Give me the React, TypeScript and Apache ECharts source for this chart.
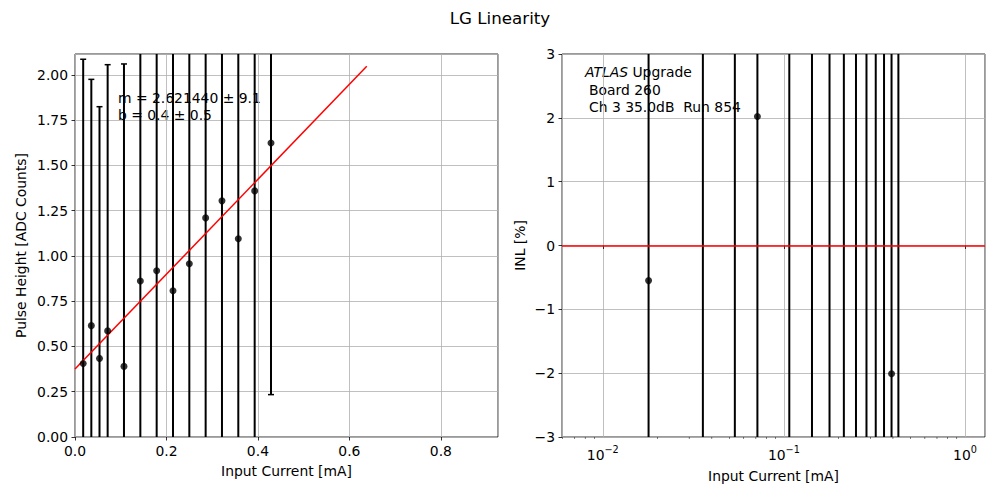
import React, { useEffect, useRef } from 'react';
import * as echarts from 'echarts';

const FONT = 'DejaVu Sans';

// Input currents [mA] (shared by both panels)
const currents = [0.0179, 0.0357, 0.0536, 0.0714, 0.1071, 0.1429, 0.1786, 0.2143, 0.25, 0.2857, 0.3214, 0.3571, 0.3929, 0.4286];
// Left panel: pulse heights and symmetric errors
const pulseHeights = [0.406, 0.615, 0.434, 0.586, 0.39, 0.861, 0.918, 0.808, 0.957, 1.21, 1.304, 1.095, 1.359, 1.624];
const pulseErrors = [1.68, 1.36, 1.39, 1.47, 1.67, 1.6, 1.5, 1.5, 1.5, 1.5, 1.5, 1.5, 1.5, 1.39];
// Linear fit line
const fitX = [0, 0.638];
const fitY = [0.375, 2.047];
// Right panel: INL values (null = off scale) and error bar limits
const inlValues: (number | null)[] = [-0.55, null, null, 2.02, null, null, null, null, null, null, null, null, -2.01, null];
const inlLow = [-30, -30, -30, -30, -30, -30, -30, -30, -30, -30, -30, -30, -30, -30];
const inlHigh = [30, 30, 30, 30, 30, 30, 30, 30, 30, 30, 30, 30, 30, 30];
// Log axis minor ticks
const logMinorTicks = [0.006, 0.007, 0.008, 0.009, 0.02, 0.03, 0.04, 0.05, 0.06, 0.07, 0.08, 0.09, 0.2, 0.3, 0.4, 0.5, 0.6, 0.7, 0.8, 0.9];

const errRender = (params: any, api: any) => {
  const x = api.value(0);
  const lo = api.value(1);
  const hi = api.value(2);
  const pLo = api.coord([x, lo]);
  const pHi = api.coord([x, hi]);
  const cap = 3;
  const st = { stroke: '#000', lineWidth: 2 };
  const capSt = { stroke: '#000', lineWidth: 1.5 };
  return {
    type: 'group',
    children: [
      { type: 'line', shape: { x1: pLo[0], y1: pLo[1], x2: pHi[0], y2: pHi[1] }, style: st },
      { type: 'line', shape: { x1: pLo[0] - cap, y1: pLo[1], x2: pLo[0] + cap, y2: pLo[1] }, style: capSt },
      { type: 'line', shape: { x1: pHi[0] - cap, y1: pHi[1], x2: pHi[0] + cap, y2: pHi[1] }, style: capSt },
    ],
  };
};

const minus = (s: string) => s.replace('-', '\u2212');

export default function App() {
  const ref = useRef<HTMLDivElement>(null);
  useEffect(() => {
    const chart = echarts.init(ref.current!, undefined, { renderer: 'svg' });
    const tickStyle = { show: true, length: 3.5, lineStyle: { color: '#000', width: 0.8 } };
    const split = { show: true, lineStyle: { color: '#b0b0b0', width: 0.8 } };
    const lbl = { color: '#000', fontSize: 13.9, fontFamily: FONT, margin: 7 };
    const nameStyle = { color: '#000', fontSize: 13.9, fontFamily: FONT };

    const option: any = {
      animation: false,
      backgroundColor: '#fff',
      title: {
        text: 'LG Linearity',
        left: 'center',
        top: 9,
        padding: 0,
        textStyle: { fontSize: 16.7, fontWeight: 'normal', color: '#000', fontFamily: FONT },
      },
      grid: [
        { left: 75, top: 54, width: 423, height: 383, show: true, borderColor: '#000', borderWidth: 0.8, backgroundColor: 'transparent' },
        { left: 562, top: 54, width: 423, height: 383, show: true, borderColor: '#000', borderWidth: 0.8, backgroundColor: 'transparent' },
      ],
      xAxis: [
        {
          type: 'value', gridIndex: 0, min: 0, max: 0.925, interval: 0.2,
          axisLine: { show: false }, axisTick: tickStyle, splitLine: split,
          axisLabel: { ...lbl, showMaxLabel: false, formatter: (v: number) => v.toFixed(1) },
          name: 'Input Current [mA]', nameLocation: 'middle', nameGap: 27, nameTextStyle: nameStyle,
        },
        {
          type: 'log', gridIndex: 1, min: 0.005955, max: 1.289, logBase: 10,
          axisLine: { show: false }, axisTick: tickStyle, splitLine: split,
          axisLabel: {
            ...lbl, showMinLabel: false, showMaxLabel: false,
            formatter: (v: number) => {
              const e = Math.round(Math.log10(v));
              return '{b|10}{s|' + minus(String(e)) + '}';
            },
            rich: {
              b: { fontSize: 13.9, fontFamily: FONT, color: '#000', verticalAlign: 'bottom', padding: [4, 0, 0, 0] },
              s: { fontSize: 9.7, fontFamily: FONT, color: '#000', verticalAlign: 'top' },
            },
          },
          name: 'Input Current [mA]', nameLocation: 'middle', nameGap: 32, nameTextStyle: nameStyle,
        },
      ],
      yAxis: [
        {
          type: 'value', gridIndex: 0, min: 0, max: 2.115, interval: 0.25,
          axisLine: { show: false }, axisTick: tickStyle, splitLine: split,
          axisLabel: { ...lbl, showMaxLabel: false, formatter: (v: number) => v.toFixed(2) },
          name: 'Pulse Height [ADC Counts]', nameLocation: 'middle', nameGap: 47, nameTextStyle: nameStyle,
        },
        {
          type: 'value', gridIndex: 1, min: -3, max: 3, interval: 1,
          axisLine: { show: false }, axisTick: tickStyle, splitLine: split,
          axisLabel: { ...lbl, formatter: (v: number) => minus(String(v)) },
          name: 'INL [%]', nameLocation: 'middle', nameGap: 35, nameTextStyle: nameStyle,
        },
      ],
      graphic: [
        {
          type: 'text', x: 118, y: 98,
          style: { text: 'm = 2.621440 \u00b1 9.1', fontSize: 13.9, fontFamily: FONT, fill: '#000', verticalAlign: 'middle' },
        },
        {
          type: 'text', x: 118, y: 115,
          style: { text: 'b = 0.4 \u00b1 0.5', fontSize: 13.9, fontFamily: FONT, fill: '#000', verticalAlign: 'middle' },
        },
        {
          type: 'text', x: 585, y: 72,
          style: {
            text: '{i|ATLAS} Upgrade', fontSize: 13.9, fontFamily: FONT, fill: '#000', verticalAlign: 'middle',
            rich: { i: { fontStyle: 'italic', fontSize: 13.9, fontFamily: FONT, fill: '#000' } },
          },
        },
        {
          type: 'text', x: 589, y: 89.5,
          style: { text: 'Board 260', fontSize: 13.9, fontFamily: FONT, fill: '#000', verticalAlign: 'middle' },
        },
        {
          type: 'text', x: 589, y: 106.5,
          style: { text: 'Ch 3 35.0dB\u00a0 Run 854', fontSize: 13.9, fontFamily: FONT, fill: '#000', verticalAlign: 'middle' },
        },
      ],
      series: [
        {
          type: 'custom', xAxisIndex: 0, yAxisIndex: 0, clip: true, z: 2, silent: true,
          renderItem: errRender,
          encode: { x: 0, y: [1, 2] },
          data: currents.map((x, i) => [x, pulseHeights[i] - pulseErrors[i], pulseHeights[i] + pulseErrors[i]]),
        },
        {
          type: 'line', xAxisIndex: 0, yAxisIndex: 0, z: 3, silent: true,
          showSymbol: false, symbol: 'none',
          lineStyle: { color: '#ff0000', width: 1.5 },
          data: fitX.map((x, i) => [x, fitY[i]]),
        },
        {
          type: 'scatter', xAxisIndex: 0, yAxisIndex: 0, z: 4, silent: true,
          symbol: 'circle', symbolSize: 7, itemStyle: { color: '#000' },
          data: currents.map((x, i) => [x, pulseHeights[i]]),
        },
        {
          type: 'custom', xAxisIndex: 1, yAxisIndex: 1, clip: true, z: 2, silent: true,
          renderItem: errRender,
          encode: { x: 0, y: [1, 2] },
          data: currents.map((x, i) => [x, inlLow[i], inlHigh[i]]),
        },
        {
          type: 'scatter', xAxisIndex: 1, yAxisIndex: 1, z: 4, silent: true,
          symbol: 'circle', symbolSize: 7, itemStyle: { color: '#000' },
          data: currents.map((x, i) => [x, inlValues[i]]).filter((d) => d[1] !== null),
          markLine: {
            silent: true, symbol: 'none', label: { show: false },
            lineStyle: { color: '#ff0000', width: 1.5, type: 'solid' },
            data: [{ yAxis: 0 }],
          },
        },
        {
          type: 'scatter', xAxisIndex: 1, yAxisIndex: 1, z: 1, silent: true, clip: false,
          symbol: 'rect', symbolSize: [0.6, 2], symbolOffset: [0, 1],
          itemStyle: { color: '#000' },
          data: logMinorTicks.map((x) => [x, -3]),
        },
      ],
    };
    chart.setOption(option);
    return () => chart.dispose();
  }, []);
  return <div ref={ref} style={{ position: 'absolute', left: 0, top: 0, width: 1000, height: 500 }} />;
}
